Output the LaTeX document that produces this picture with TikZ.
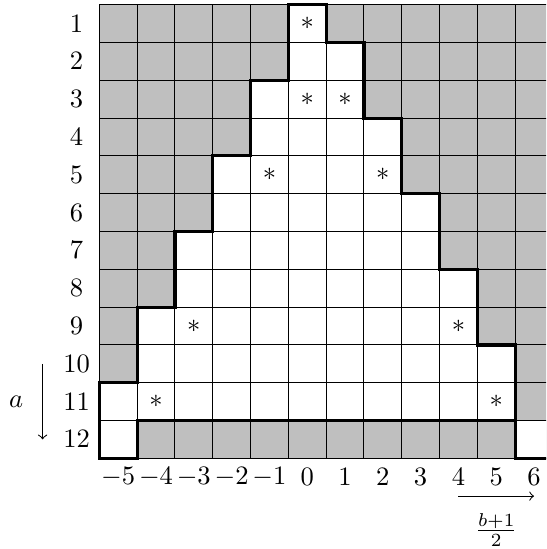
\documentclass[tikz,border=0pt]{standalone}
\begin{document}
\begin{tikzpicture}[x=0.5cm,y=0.5cm,
  gridline/.style={line width=0.4pt,black},
  boundary/.style={line width=1.2pt,black},
  shade/.style={fill=black!25},
  lab/.style={inner sep=0pt},
  axisarrow/.style={->,line width=0.4pt}]
\clip (-8.127,-14.899) rectangle (6.318,-0.376);
% gray background
\fill[shade] (-5.5,-12.5) rectangle (6.5,-0.5);
% white cells: row, first column, last column
\foreach \r/\lo/\hi in {1/0/0,2/0/1,3/-1/1,4/-1/2,5/-2/2,6/-2/3,7/-3/3,8/-3/4,9/-4/4,10/-4/5,11/-5/5,12/-5/-5,12/6/6}
  \fill[white] (\lo-0.5,-\r+0.5) rectangle (\hi+0.5,-\r-0.5);
% grid lines
\foreach \i in {-5.5,-4.5,...,6.5} \draw[gridline] (\i,-12.5) -- (\i,-0.5);
\foreach \j in {-0.5,-1.5,...,-12.5} \draw[gridline] (-5.5,\j) -- (7,\j);
% thick boundary
\draw[boundary] (7,-12.5) -- (5.5,-12.5) -- (5.5,-9.5) -- (4.5,-9.5) -- (4.5,-7.5) -- (3.5,-7.5)
  -- (3.5,-5.5) -- (2.5,-5.5) -- (2.5,-3.5) -- (1.5,-3.5) -- (1.5,-1.5) -- (0.5,-1.5)
  -- (0.5,-0.5) -- (-0.5,-0.5) -- (-0.5,-2.5) -- (-1.5,-2.5) -- (-1.5,-4.5) -- (-2.5,-4.5)
  -- (-2.5,-6.5) -- (-3.5,-6.5) -- (-3.5,-8.5) -- (-4.5,-8.5) -- (-4.5,-10.5) -- (-5.5,-10.5)
  -- (-5.5,-12.5) -- (-4.5,-12.5) -- (-4.5,-11.5) -- (5.5,-11.5);
% stars
\foreach \c/\r [count=\k] in {0/1,0/3,1/3,-1/5,2/5,-3/9,4/9,-4/11,5/11}
  \node[lab] (star\k) at (\c,-\r) {$*$};
% row labels
\foreach \r in {1,...,12}
  \node[lab] (row\r) at (-6.1,-\r) {$\r$};
% column labels
\foreach \c [count=\k] in {-5,...,6}
  \node[lab] (col\k) at (\c,-13) {$\c$};
% axis arrows
\coordinate (aStart) at (-7,-10);
\coordinate (aEnd) at (-7,-12);
\draw[axisarrow] (aStart) -- (aEnd);
\node[lab] (alab) at (-7.7,-11) {$a$};
\coordinate (bStart) at (4,-13.5);
\coordinate (bEnd) at (6,-13.5);
\draw[axisarrow] (bStart) -- (bEnd);
\node[lab] (blab) at (5,-14.4) {$\frac{b+1}{2}$};
\end{tikzpicture}
\end{document}
